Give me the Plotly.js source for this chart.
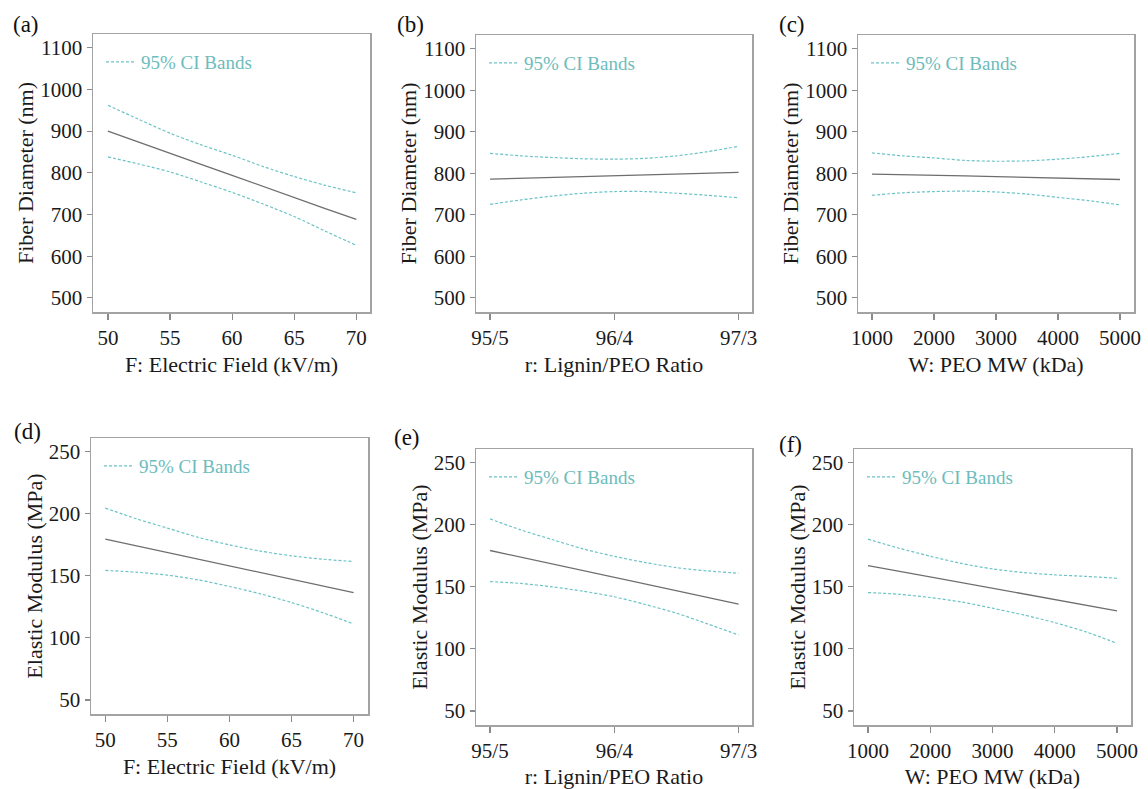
<!DOCTYPE html>
<html>
<head>
<meta charset="utf-8">
<script src="https://cdn.plot.ly/plotly-3.0.1.min.js"></script>
<style>html,body{margin:0;padding:0;background:#fff;}#chart{width:1148px;height:789px;}</style>
</head>
<body>
<div id="chart"></div>
<script>
// ---- data ----
const fieldX = [50, 52.5, 55, 57.5, 60, 62.5, 65, 67.5, 70];
const ratioX = [95, 95.25, 95.5, 95.75, 96, 96.25, 96.5, 96.75, 97];
const mwX = [1000, 1500, 2000, 2500, 3000, 3500, 4000, 4500, 5000];

const ratioTickVals = [95, 96, 97];
const ratioTickText = ['95/5', '96/4', '97/3'];
const fieldTickVals = [50, 55, 60, 65, 70];
const mwTickVals = [1000, 2000, 3000, 4000, 5000];
const diamTickVals = [500, 600, 700, 800, 900, 1000, 1100];
const modTickVals = [50, 100, 150, 200, 250];

// Fiber diameter (nm)
const aFit   = [900, 873, 847, 820, 794, 767, 741, 714, 688];
const aUpper = [962, 928, 895, 867, 842, 815, 791, 770, 752];
const aLower = [838, 821, 802, 778, 753, 725, 695, 660, 626];

const bFit   = [786, 788, 790, 792, 794, 796, 798, 800, 802];
const bUpper = [848, 842, 838, 835, 834, 836, 842, 852, 865];
const bLower = [725, 736, 745, 752, 756, 756, 752, 747, 741];

const cFit   = [798, 797, 795, 794, 792, 790, 789, 787, 785];
const cUpper = [849, 842, 837, 831, 829, 830, 834, 840, 848];
const cLower = [747, 753, 756, 757, 755, 750, 742, 734, 724];

// Elastic modulus (MPa)
const dFit   = [179.4, 174.0, 168.6, 163.2, 157.9, 152.5, 147.1, 141.7, 136.4];
const dUpper = [204.4, 195.8, 188.3, 180.8, 174.8, 169.8, 166.0, 163.3, 161.4];
const dLower = [154.2, 152.8, 150.4, 146.6, 141.3, 135.4, 128.4, 120.3, 111.2];

const eFit   = [179.0, 173.6, 168.2, 162.8, 157.4, 152.0, 146.6, 141.2, 135.8];
const eUpper = [204.4, 195.5, 187.8, 180.3, 174.3, 169.3, 165.2, 162.6, 160.7];
const eLower = [154.0, 152.5, 149.8, 146.2, 141.8, 135.6, 128.6, 120.0, 111.1];

const fFit   = [166.9, 162.3, 157.8, 153.2, 148.7, 144.1, 139.5, 135.0, 130.4];
const fUpper = [188.1, 180.8, 174.4, 168.6, 164.2, 161.3, 159.4, 158.2, 156.7];
const fLower = [145.2, 143.8, 141.2, 137.6, 132.6, 127.2, 121.0, 113.6, 104.4];

const panelLabels = ['(a)', '(b)', '(c)', '(d)', '(e)', '(f)'];
const xTitles = ['F: Electric Field (kV/m)', 'r: Lignin/PEO Ratio', 'W: PEO MW (kDa)',
                 'F: Electric Field (kV/m)', 'r: Lignin/PEO Ratio', 'W: PEO MW (kDa)'];
const yTitles = ['Fiber Diameter (nm)', 'Fiber Diameter (nm)', 'Fiber Diameter (nm)',
                 'Elastic Modulus (MPa)', 'Elastic Modulus (MPa)', 'Elastic Modulus (MPa)'];
const bandName = '95% CI Bands';

// ---- styling / layout ----
const W = 1148, H = 789;
const FONT = '"Liberation Serif", "Times New Roman", Times, serif';
const FIT_COLOR = '#6e6e6e';
const CI_COLOR = '#6cc3c6';
const CI_TEXT = '#6dbcbc';
const FRAME = '#a3a3a3';

// panel boxes in pixels: [left, right, top, bottom]
const boxes = [
  [93, 370, 34, 312], [476, 752, 35, 312], [858, 1134, 35, 312],
  [91, 368, 438, 714], [476, 752, 449, 725], [854, 1131, 449, 725]
];
const panels = [
  {x: fieldX, fit: aFit, up: aUpper, lo: aLower, xr: [48.8, 71.1], yr: [466, 1133], xt: fieldTickVals, yt: diamTickVals},
  {x: ratioX, fit: bFit, up: bUpper, lo: bLower, xr: [94.887, 97.108], yr: [466, 1133], xt: ratioTickVals, xtt: ratioTickText, yt: diamTickVals},
  {x: mwX, fit: cFit, up: cUpper, lo: cLower, xr: [774, 5226], yr: [466, 1133], xt: mwTickVals, yt: diamTickVals},
  {x: fieldX, fit: dFit, up: dUpper, lo: dLower, xr: [48.85, 71.16], yr: [38.7, 260.8], xt: fieldTickVals, yt: modTickVals},
  {x: ratioX, fit: eFit, up: eUpper, lo: eLower, xr: [94.887, 97.108], yr: [38.7, 260.6], xt: ratioTickVals, xtt: ratioTickText, yt: modTickVals},
  {x: mwX, fit: fFit, up: fUpper, lo: fLower, xr: [775, 5225], yr: [38.7, 260.6], xt: mwTickVals, yt: modTickVals}
];
const labelPos = [[26, 25], [410, 24], [792, 25], [27, 431], [407, 437], [790, 444]];

const data = [];
const layout = {
  width: W, height: H,
  margin: {l: 0, r: 0, t: 0, b: 0},
  paper_bgcolor: '#ffffff', plot_bgcolor: '#ffffff',
  font: {family: FONT, color: '#222'},
  showlegend: true,
  annotations: []
};

panels.forEach((p, i) => {
  const n = i + 1;
  const xa = n === 1 ? 'x' : 'x' + n;
  const ya = n === 1 ? 'y' : 'y' + n;
  const lg = n === 1 ? 'legend' : 'legend' + n;
  const [L, R, T, B] = boxes[i];
  const ciLine = {color: CI_COLOR, width: 1.2, dash: '3px,2px', shape: 'spline', smoothing: 0.8};
  data.push({x: p.x, y: p.fit, xaxis: xa, yaxis: ya, mode: 'lines', showlegend: false,
             line: {color: FIT_COLOR, width: 1.3}, hoverinfo: 'x+y'});
  data.push({x: p.x, y: p.up, xaxis: xa, yaxis: ya, mode: 'lines', name: bandName, legend: lg,
             showlegend: true, line: ciLine});
  data.push({x: p.x, y: p.lo, xaxis: xa, yaxis: ya, mode: 'lines', name: bandName, legend: lg,
             showlegend: false, line: ciLine});

  const axCommon = {
    showline: true, mirror: true, linecolor: FRAME, linewidth: 1.5,
    ticks: 'outside', tickcolor: '#8a8a8a', tickwidth: 1.2,
    showgrid: false, zeroline: false, fixedrange: true,
    tickfont: {family: FONT, size: 21, color: '#1a1a1a'}
  };
  layout['xaxis' + (n === 1 ? '' : n)] = Object.assign({}, axCommon, {
    domain: [L / W, R / W], range: p.xr, anchor: ya, ticklen: 6,
    tickmode: 'array', tickvals: p.xt, ticktext: p.xtt ? p.xtt : p.xt.map(String),
    title: {text: xTitles[i], font: {family: FONT, size: 22, color: '#1a1a1a'}, standoff: 8}
  });
  layout['yaxis' + (n === 1 ? '' : n)] = Object.assign({}, axCommon, {
    domain: [1 - B / H, 1 - T / H], range: p.yr, anchor: xa, ticklen: 5,
    tickmode: 'array', tickvals: p.yt, ticktext: p.yt.map(String),
    title: {text: yTitles[i], font: {family: FONT, size: 22, color: '#1a1a1a'}, standoff: 0}
  });
  layout[lg] = {
    x: (L + 8) / W, y: 1 - (T + 28) / H, xanchor: 'left', yanchor: 'middle',
    bgcolor: 'rgba(0,0,0,0)', borderwidth: 0,
    font: {family: FONT, size: 19, color: CI_TEXT}, itemwidth: 30
  };
  layout.annotations.push({
    text: panelLabels[i], xref: 'paper', yref: 'paper',
    x: labelPos[i][0] / W, y: 1 - labelPos[i][1] / H, xanchor: 'center', yanchor: 'middle',
    showarrow: false, font: {family: FONT, size: 23, color: '#111'}
  });
});

Plotly.newPlot('chart', data, layout, {displayModeBar: false, staticPlot: true});
</script>
</body>
</html>
